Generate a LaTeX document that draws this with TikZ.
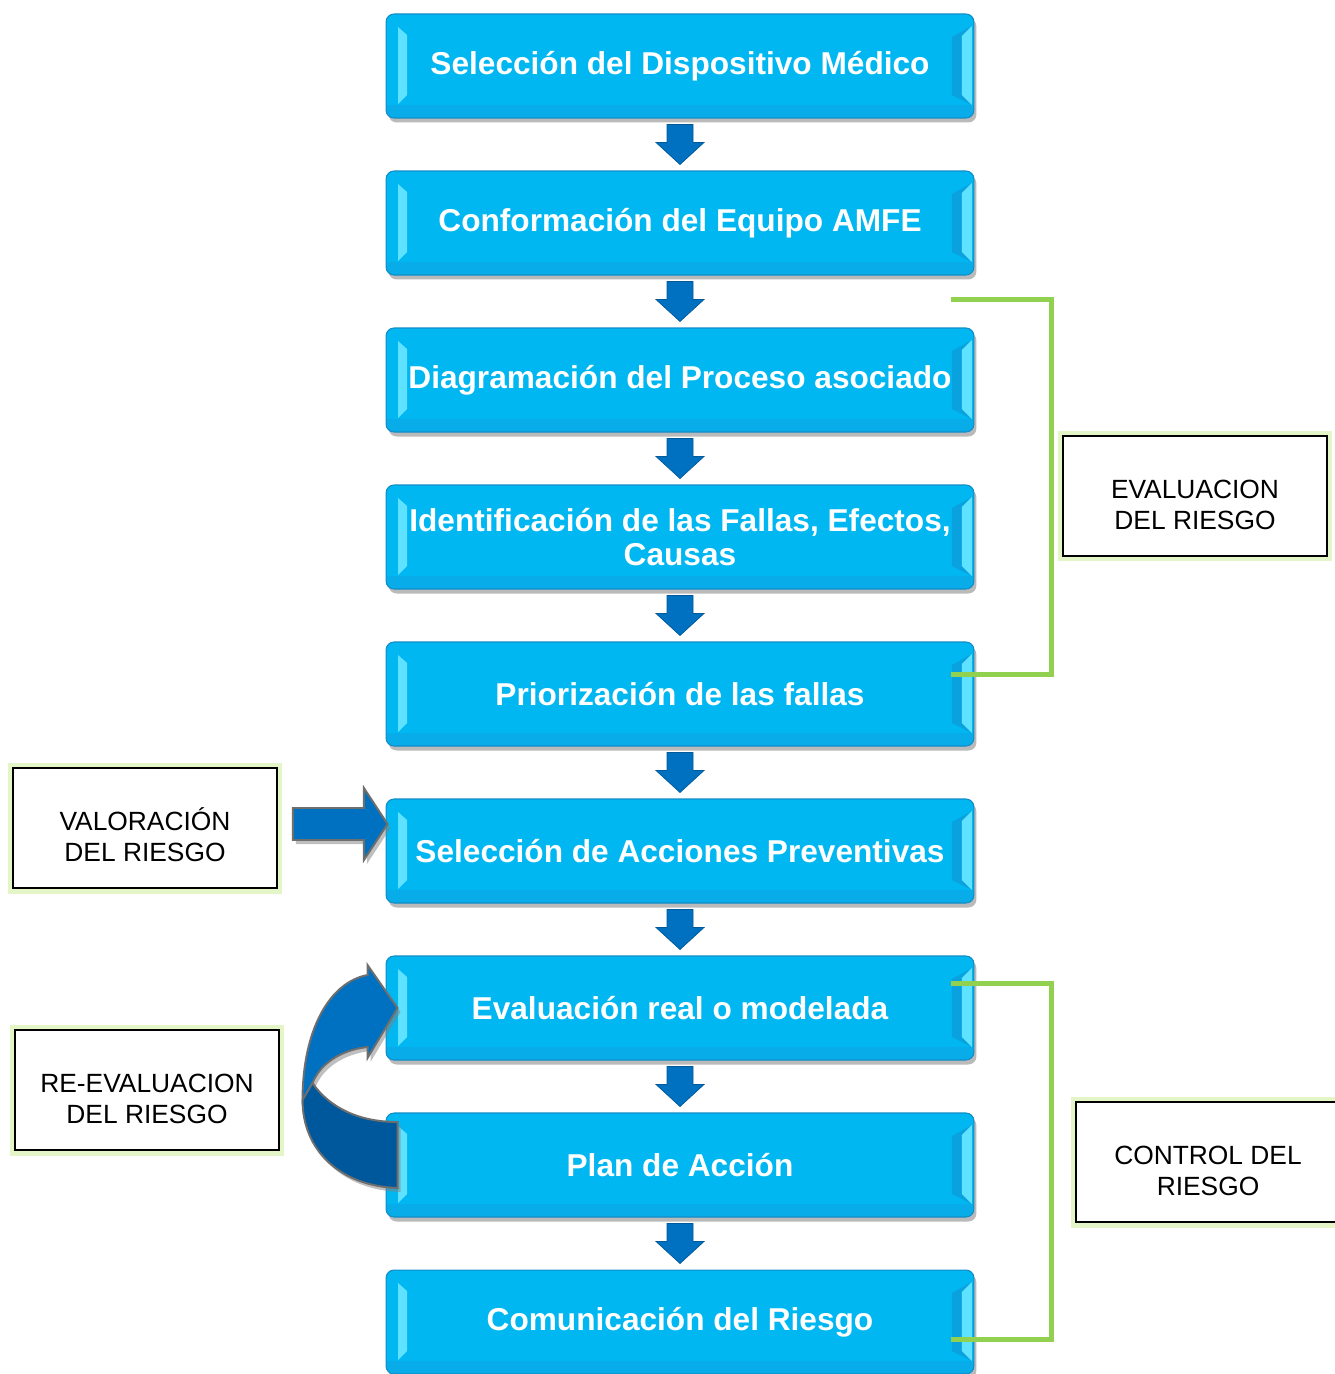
\documentclass[tikz,border=0pt]{standalone}
\usepackage{fontspec}
\setmainfont{Liberation Sans}
\usepackage{xcolor}
\usepackage{tikz}
\usetikzlibrary{calc,shadows}

\definecolor{boxblue}{RGB}{0,183,241}
\definecolor{boxedge}{RGB}{16,140,200}
\definecolor{boxbottom}{RGB}{8,172,232}
\definecolor{boxside}{RGB}{10,162,222}
\definecolor{bevellight}{RGB}{95,226,255}
\definecolor{arrowblue}{RGB}{0,112,192}
\definecolor{arrowdark}{RGB}{0,88,156}
\definecolor{arrowedge}{RGB}{110,110,110}
\definecolor{bracketgreen}{RGB}{146,208,80}
\definecolor{glowgreen}{RGB}{228,245,200}

\tikzset{
  stepbox/.style={draw=boxedge, line width=0.6pt, fill=boxblue, rounded corners=0.16cm,
    minimum width=11.76cm, minimum height=2.08cm, inner sep=0pt, align=center,
    text=white, font=\bfseries\fontsize{18pt}{19pt}\selectfont,
    drop shadow={shadow xshift=0.05cm, shadow yshift=-0.09cm, opacity=0.45, fill=black!60},
    path picture={
      \fill[boxbottom, sharp corners] ([yshift=0.26cm]path picture bounding box.south west) rectangle (path picture bounding box.south east);
      \fill[boxside, sharp corners] ([shift={(-0.04cm,-0.24cm)}]path picture bounding box.north east)
        -- ([shift={(-0.44cm,-0.46cm)}]path picture bounding box.north east)
        -- ([shift={(-0.44cm,0.46cm)}]path picture bounding box.south east)
        -- ([shift={(-0.04cm,0.26cm)}]path picture bounding box.south east) -- cycle;
      \fill[bevellight, sharp corners] ([shift={(0.24cm,-0.26cm)}]path picture bounding box.north west)
        -- ([shift={(0.42cm,-0.42cm)}]path picture bounding box.north west)
        -- ([shift={(0.42cm,0.46cm)}]path picture bounding box.south west)
        -- ([shift={(0.24cm,0.28cm)}]path picture bounding box.south west) -- cycle;
      \fill[bevellight, sharp corners] ([shift={(-0.04cm,-0.24cm)}]path picture bounding box.north east)
        -- ([shift={(-0.24cm,-0.44cm)}]path picture bounding box.north east)
        -- ([shift={(-0.24cm,0.46cm)}]path picture bounding box.south east)
        -- ([shift={(-0.04cm,0.26cm)}]path picture bounding box.south east) -- cycle;
    }},
  labelbox/.style={draw=black, line width=1.1pt, fill=white, minimum width=5.28cm,
    minimum height=2.4cm, align=center, font=\fontsize{15pt}{17.6pt}\selectfont,
    preaction={draw=glowgreen, line width=0.22cm}},
  downarr/.style={fill=arrowblue, draw=arrowblue!80!black, line width=0.4pt},
  blockarr/.style={fill=arrowblue, draw=arrowedge, line width=1.1pt,
    drop shadow={shadow xshift=0.06cm, shadow yshift=-0.08cm, opacity=0.5, fill=black!50}},
  bracket/.style={draw=bracketgreen, line width=0.1cm}
}

\newcommand{\flowarrow}[2]{%
  \path[downarr] ($(#1.south)+(-13,-6)$) -- ($(#1.south)+(13,-6)$) -- ($(#2.north)+(13,28)$)
    -- ($(#2.north)+(24,28)$) -- ($(#2.north)+(0,6)$) -- ($(#2.north)+(-24,28)$)
    -- ($(#2.north)+(-13,28)$) -- cycle;}
\newcommand{\lblstrut}{\rule{0pt}{0.74cm}}

\begin{document}
\begin{tikzpicture}[x=0.02cm, y=0.02cm]
  \useasboundingbox (0,0) rectangle (1335,-1374);

  \node[stepbox] (sel) at (680,-66) {Selección del Dispositivo Médico};
  \node[stepbox] (conf) at (680,-223) {Conformación del Equipo AMFE};
  \node[stepbox] (diag) at (680,-380) {Diagramación del Proceso asociado};
  \node[stepbox] (ident) at (680,-537) {Identificación de las Fallas, Efectos,\\Causas};
  \node[stepbox] (prio) at (680,-694) {Priorización de las fallas};
  \node[stepbox] (acc) at (680,-851) {Selección de Acciones Preventivas};
  \node[stepbox] (evalm) at (680,-1008) {Evaluación real o modelada};
  \node[stepbox] (plan) at (680,-1165) {Plan de Acción};
  \node[stepbox] (com) at (680,-1322) {Comunicación del Riesgo};

  \node[labelbox] (evalr) at (1195,-496) {\lblstrut EVALUACION\\DEL RIESGO};
  \node[labelbox] (valor) at (145,-828) {\lblstrut VALORACIÓN\\DEL RIESGO};
  \node[labelbox] (reeval) at (147,-1090) {\lblstrut RE-EVALUACION\\DEL RIESGO};
  \node[labelbox] (ctrl) at (1208,-1162) {\lblstrut CONTROL DEL\\RIESGO};

  \foreach \a/\b in {sel/conf, conf/diag, diag/ident, ident/prio, prio/acc,
                     acc/evalm, evalm/plan, plan/com}
    {\flowarrow{\a}{\b}}

  \draw[bracket] ($(diag.north east)+(-23,28)$) -- ++(100,0) |- ($(prio.east)+(-23,20)$);
  \draw[bracket] ($(evalm.north east)+(-23,-28)$) -- ++(100,0) |- ($(com.east)+(-23,-17)$);

  \coordinate (ra) at ($(valor.east)+(15,4)$);
  \coordinate (rt) at (acc.west |- ra);
  \path[blockarr] ($(ra)+(0,16)$) -- ($(ra)+(71,16)$) -- ($(ra)+(71,36)$) -- ($(rt)+(2,0)$)
    -- ($(ra)+(71,-36)$) -- ($(ra)+(71,-16)$) -- ($(ra)+(0,-16)$) -- cycle;

  \coordinate (ev) at (evalm.west);
  \coordinate (pl) at (plan.west);
  \path[blockarr] ($(ev)+(-83,-92)$) .. controls ($(ev)+(-83,-22)$) and ($(ev)+(-56,26)$) .. ($(ev)+(-18,33)$)
    -- ($(ev)+(-18,43)$) -- ($(ev)+(12,0)$) -- ($(ev)+(-18,-50)$) -- ($(ev)+(-18,-39)$)
    .. controls ($(ev)+(-46,-42)$) and ($(ev)+(-66,-57)$) .. ($(ev)+(-73,-75)$) -- cycle;
  \path[blockarr, fill=arrowdark] ($(pl)+(-83,65)$) .. controls ($(pl)+(-83,15)$) and ($(pl)+(-46,-21)$) .. ($(pl)+(12,-23)$)
    -- ($(pl)+(12,43)$) .. controls ($(pl)+(-26,43)$) and ($(pl)+(-56,57)$) .. ($(pl)+(-73,82)$) -- cycle;
\end{tikzpicture}
\end{document}
